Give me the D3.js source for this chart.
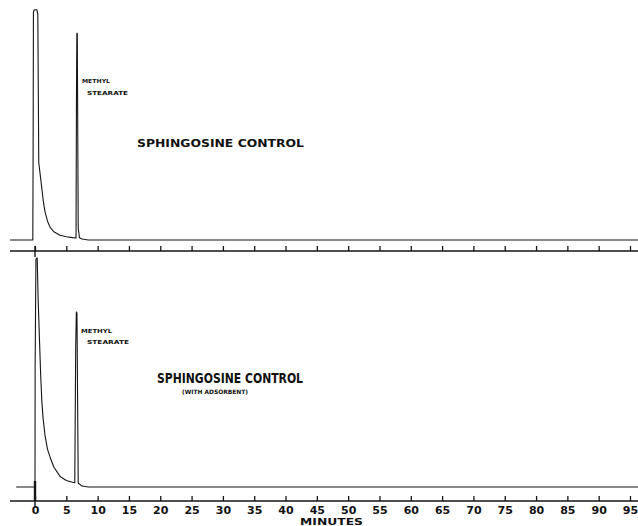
<!DOCTYPE html>
<html lang="en">
<head>
<meta charset="utf-8">
<title>Sphingosine control chromatograms</title>
<script src="https://d3js.org/d3.v7.min.js"></script>
<style>
  body { margin: 0; background: #fff; }
  svg { display: block; }
  .trace { fill: none; stroke: #151515; stroke-width: 1.1; stroke-linejoin: round; }
  .axisline { stroke: #151515; stroke-width: 1.4; }
  .tick line { stroke: #151515; stroke-width: 1.3; }
  .tick text { font-family: "DejaVu Sans", sans-serif; font-weight: bold; font-size: 11px; fill: #111; }
  .lbl { font-family: "DejaVu Sans", sans-serif; font-weight: bold; fill: #111; }
</style>
</head>
<body>
<div id="chart"></div>
<script>
// tick labels along the time axis (minutes)
var tickLabels = [0, 5, 10, 15, 20, 25, 30, 35, 40, 45, 50, 55, 60, 65, 70, 75, 80, 85, 90, 95];

// upper trace: sphingosine control (time in minutes, detector response 0-100)
var topTime   = [-4, -0.35, -0.3, -0.25, -0.1, 0.3, 0.45, 0.6, 1.0, 1.3, 1.6, 2.0, 2.4, 3.0, 4.0, 5.0, 6.0, 6.55, 6.62, 6.68, 6.75, 6.9, 7.1, 7.5, 8.5, 96.5];
var topSignal = [0, 0, 40, 97, 98, 98, 96, 33, 24, 17, 12, 8, 5.5, 3.5, 2.0, 1.4, 1.0, 0.9, 60, 88, 88, 5, 1.0, 0.4, 0, 0];

// lower trace: sphingosine control with adsorbent
var botTime   = [-3, 0, 0.02, 0.15, 0.35, 0.5, 0.9, 1.1, 1.3, 1.6, 2.0, 2.5, 3.0, 4.0, 5.0, 6.0, 6.35, 6.5, 6.6, 6.7, 6.9, 7.5, 8.5, 96.5];
var botSignal = [0, 0, 51, 97, 97.5, 80, 48, 36, 29, 22, 16, 12, 8.5, 4.5, 2.8, 2.0, 1.8, 60, 74.5, 74, 1.7, 0.4, 0, 0];

var W = 638, H = 526;
var svg = d3.select("#chart").append("svg")
  .attr("width", W).attr("height", H);

var x = d3.scaleLinear().domain([0, 95]).range([35, 630]);
var yTop = d3.scaleLinear().domain([0, 100]).range([240, 5]);
var yBot = d3.scaleLinear().domain([0, 100]).range([487, 252]);

var line = function(ys) {
  return d3.line().x(function(d) { return x(d[0]); }).y(function(d) { return ys(d[1]); });
};

// traces
svg.append("path").attr("class", "trace")
  .attr("d", line(yTop)(d3.zip(topTime, topSignal)));
svg.append("path").attr("class", "trace")
  .attr("d", line(yBot)(d3.zip(botTime, botSignal)));

// time axes (ticks point upward, labels only on the lower one)
function drawAxis(yPos, labels) {
  var g = svg.append("g").attr("transform", "translate(0," + yPos + ")");
  g.append("line").attr("class", "axisline")
    .attr("x1", x(-4)).attr("x2", x(96.5));
  var ax = d3.axisBottom(x).tickValues(tickLabels).tickSize(-5).tickPadding(5);
  if (!labels) ax.tickFormat("");
  g.call(ax);
  g.select(".domain").remove();
  // start mark crosses the line
  g.append("line").attr("class", "axisline")
    .attr("x1", x(0)).attr("x2", x(0)).attr("y1", -5).attr("y2", 6);
  return g;
}
drawAxis(251, false);
var bottomAxis = drawAxis(501, true);
svg.append("line").attr("class", "axisline").style("stroke-width", 2.4)
  .attr("x1", x(0)).attr("x2", x(0)).attr("y1", yBot(0) - 6).attr("y2", 501);

// labels, stretched to the widths of the original lettering
function label(txt, x0, y0, size, width) {
  svg.append("text").attr("class", "lbl")
    .attr("x", x0).attr("y", y0)
    .style("font-size", size + "px")
    .attr("textLength", width).attr("lengthAdjust", "spacingAndGlyphs")
    .text(txt);
}
label("METHYL", 82, 83, 5.5, 28);
label("STEARATE", 87, 95, 5.5, 41);
label("SPHINGOSINE  CONTROL", 137, 147, 11, 167);

label("METHYL", 81, 333, 5.5, 31);
label("STEARATE", 87, 344, 5.5, 42);
label("SPHINGOSINE  CONTROL", 157, 383, 13.5, 146);
label("(WITH  ADSORBENT)", 182, 394, 6, 66);

label("MINUTES", 300, 525, 8.5, 63);
</script>
</body>
</html>
